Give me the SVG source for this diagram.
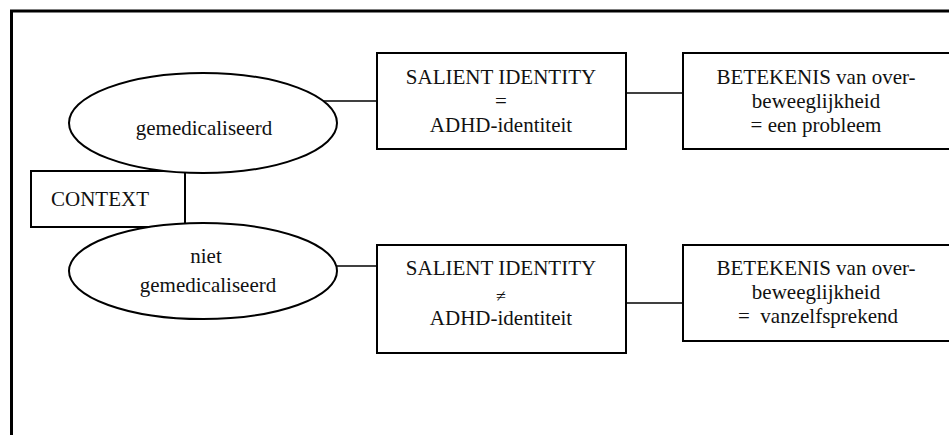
<svg xmlns="http://www.w3.org/2000/svg" width="949" height="435" viewBox="0 0 949 435">
<style>
.frame{fill:none;stroke:#000;stroke-width:3}
.box{fill:#fff;stroke:#000;stroke-width:2}
.ell{fill:#fff;stroke:#000;stroke-width:2}
.conn{fill:none;stroke:#000;stroke-width:1.6}
.t{font-family:'Liberation Serif','Times New Roman',serif;font-size:21px;fill:#111;text-anchor:middle;white-space:pre}
</style>
<rect width="949" height="435" fill="#fff"/>
<path class="frame" d="M11.5,435 V11 H949"/>
<g id="connectors">
<line class="conn" x1="318" y1="101" x2="377" y2="101"/>
<line class="conn" x1="626" y1="93" x2="683" y2="93"/>
<line class="conn" x1="337" y1="266" x2="377" y2="266"/>
<line class="conn" x1="626" y1="303" x2="683" y2="303"/>
</g>
<g id="context">
<rect class="box" x="31" y="171" width="154" height="56"/>
<text class="t" x="100" y="206">CONTEXT</text>
</g>
<g id="gemedicaliseerd">
<ellipse class="ell" cx="203" cy="123" rx="134" ry="50"/>
<text class="t" x="204" y="135">gemedicaliseerd</text>
</g>
<g id="niet-gemedicaliseerd">
<ellipse class="ell" cx="203" cy="271" rx="134" ry="48"/>
<text class="t" x="206" y="263">niet</text>
<text class="t" x="208" y="292">gemedicaliseerd</text>
</g>
<g id="salient1">
<rect class="box" x="377" y="53" width="249" height="96"/>
<text class="t" x="501" y="84">SALIENT IDENTITY</text>
<text class="t" x="501" y="108">=</text>
<text class="t" x="501" y="132">ADHD-identiteit</text>
</g>
<g id="betekenis1">
<rect class="box" x="683" y="53" width="280" height="96"/>
<text class="t" x="816" y="84">BETEKENIS van over-</text>
<text class="t" x="816" y="108">beweeglijkheid</text>
<text class="t" x="816" y="132">= een probleem</text>
</g>
<g id="salient2">
<rect class="box" x="377" y="245" width="249" height="108"/>
<text class="t" x="501" y="275">SALIENT IDENTITY</text>
<text class="t" x="501" y="302" style="font-size:18px">≠</text>
<text class="t" x="501" y="325">ADHD-identiteit</text>
</g>
<g id="betekenis2">
<rect class="box" x="683" y="245" width="280" height="96"/>
<text class="t" x="816" y="275">BETEKENIS van over-</text>
<text class="t" x="816" y="299">beweeglijkheid</text>
<text class="t" x="818" y="323">=  vanzelfsprekend</text>
</g>
</svg>
